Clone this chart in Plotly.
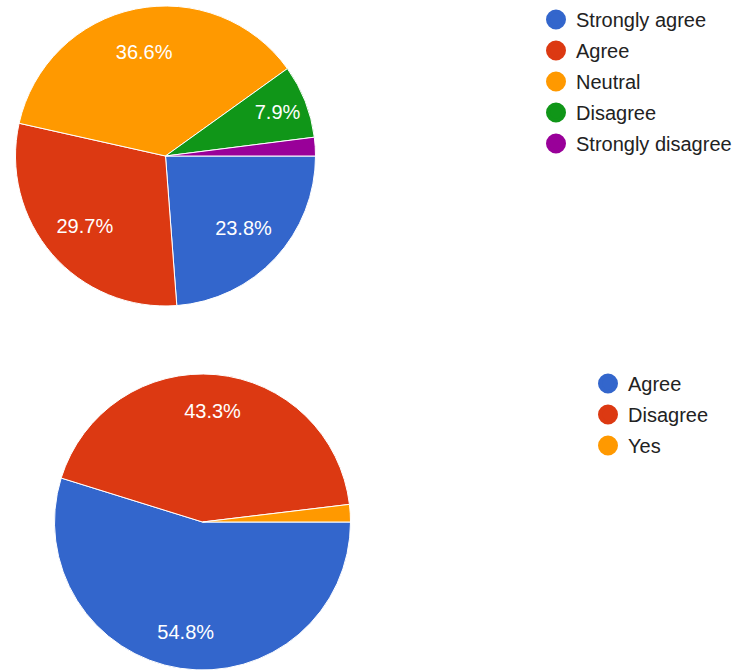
import plotly.graph_objects as go

# ---- data ----
top_labels = ["Strongly agree", "Agree", "Neutral", "Disagree", "Strongly disagree"]
top_values = [23.8, 29.7, 36.6, 7.9, 2.0]
top_colors = ["#3366cc", "#dc3912", "#ff9900", "#109618", "#990099"]

bot_labels = ["Agree", "Disagree", "Yes"]
bot_values = [54.8, 43.3, 1.9]
bot_colors = ["#3366cc", "#dc3912", "#ff9900"]

W, H = 738, 670
FONT = "Liberation Sans, Arial, sans-serif"


def dom(cx, cy, r):
    return dict(x=[(cx - r) / W, (cx + r) / W],
                y=[max(0, 1 - (cy + r) / H), min(1, 1 - (cy - r) / H)])


def pct_text(vals):
    return [f"{v:.1f}%" if v >= 5 else "" for v in vals]


fig = go.Figure()


def add_pie(labels, values, colors, domain, hole):
    # coloured slices
    fig.add_trace(go.Pie(
        labels=labels, values=values, sort=False, direction="clockwise",
        rotation=90, domain=domain,
        marker=dict(colors=colors, line=dict(color="white", width=1)),
        textinfo="none", showlegend=False, hoverinfo="label+percent",
    ))
    # percentage labels placed further out (transparent ring on same data)
    fig.add_trace(go.Pie(
        labels=labels, values=values, sort=False, direction="clockwise",
        rotation=90, domain=domain, hole=hole,
        marker=dict(colors=["rgba(0,0,0,0)"] * len(values),
                    line=dict(color="rgba(0,0,0,0)", width=0)),
        text=pct_text(values), textinfo="text", textposition="inside",
        insidetextorientation="horizontal",
        textfont=dict(color="white", size=20, family=FONT),
        showlegend=False, hoverinfo="skip",
    ))


add_pie(top_labels, top_values, top_colors, dom(165.5, 156, 150), 0.42)
add_pie(bot_labels, bot_values, bot_colors, dom(202.5, 522, 148), 0.5)

# legend entries with round markers
for lab, col in zip(top_labels, top_colors):
    fig.add_trace(go.Scatter(x=[None], y=[None], mode="markers", name=lab,
                             marker=dict(size=16, color=col, symbol="circle",
                                         line=dict(color=col, width=4)),
                             legend="legend", legendgroup="t" + lab))
for lab, col in zip(bot_labels, bot_colors):
    fig.add_trace(go.Scatter(x=[None], y=[None], mode="markers", name=lab,
                             marker=dict(size=16, color=col, symbol="circle",
                                         line=dict(color=col, width=4)),
                             legend="legend2", legendgroup="b" + lab))

legend_common = dict(font=dict(size=20, color="#222222", family=FONT),
                     bgcolor="rgba(0,0,0,0)", borderwidth=0,
                     xanchor="left", yanchor="top", tracegroupgap=2,
                     itemclick=False, itemdoubleclick=False)

fig.update_layout(
    width=W, height=H,
    margin=dict(l=0, r=0, t=0, b=0),
    paper_bgcolor="white", plot_bgcolor="white",
    xaxis=dict(visible=False), yaxis=dict(visible=False),
    legend=dict(x=536 / W, y=1.0, **legend_common),
    legend2=dict(x=588 / W, y=1 - 364 / H, **legend_common),
    font=dict(family=FONT),
)

fig.write_html("out.html")
